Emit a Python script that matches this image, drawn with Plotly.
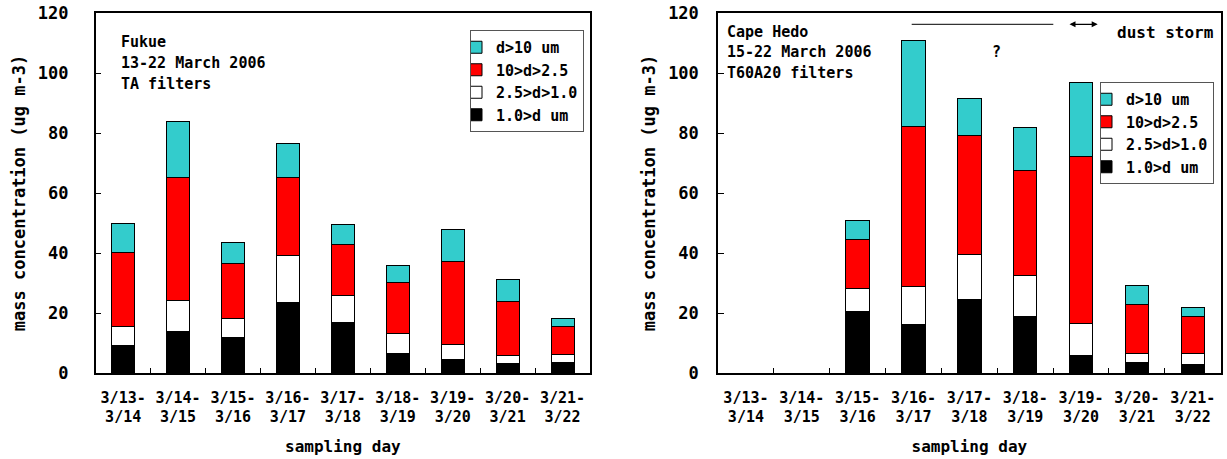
import plotly.graph_objects as go

categories = ["3/13-<br>3/14", "3/14-<br>3/15", "3/15-<br>3/16", "3/16-<br>3/17", "3/17-<br>3/18",
              "3/18-<br>3/19", "3/19-<br>3/20", "3/20-<br>3/21", "3/21-<br>3/22"]
series_names = ["1.0>d um", "2.5>d>1.0", "10>d>2.5", "d>10 um"]

# Fukue (TA filters) - segment values, ug m-3
fukue_lt1 = [9.1, 14.0, 11.8, 23.6, 16.7, 6.4, 4.4, 3.1, 3.4]
fukue_1_25 = [6.5, 10.2, 6.3, 15.7, 9.2, 6.9, 5.0, 2.8, 2.9]
fukue_25_10 = [24.6, 40.9, 18.3, 25.8, 17.0, 16.9, 27.8, 17.9, 9.3]
fukue_gt10 = [9.8, 18.7, 7.0, 11.3, 6.5, 5.8, 10.6, 7.4, 2.6]

# Cape Hedo (T60A20 filters)
hedo_lt1 = [None, None, 20.6, 16.3, 24.6, 18.8, 5.8, 3.6, 2.8]
hedo_1_25 = [None, None, 7.7, 12.5, 15.0, 13.8, 10.6, 3.0, 3.6]
hedo_25_10 = [None, None, 16.1, 53.5, 39.7, 35.0, 55.9, 16.4, 12.3]
hedo_gt10 = [None, None, 6.3, 28.5, 12.3, 14.4, 24.6, 6.2, 3.2]

colors = ["#000000", "#FFFFFF", "#FF0000", "#33CCCC"]
FONT = "DejaVu Sans Mono"
W, H = 1227, 459

fig = go.Figure()
for vals, name, col in zip([fukue_lt1, fukue_1_25, fukue_25_10, fukue_gt10], series_names, colors):
    fig.add_trace(go.Bar(x=categories, y=vals, name=name, marker=dict(color=col, line=dict(color="black", width=1)),
                         xaxis="x", yaxis="y", legend="legend"))
for vals, name, col in zip([hedo_lt1, hedo_1_25, hedo_25_10, hedo_gt10], series_names, colors):
    fig.add_trace(go.Bar(x=categories, y=vals, name=name, marker=dict(color=col, line=dict(color="black", width=1)),
                         xaxis="x2", yaxis="y2", legend="legend2"))

def px(x):
    return x / W

def py(y):
    return 1 - y / H

ydom = [py(373), py(13)]
axis_common = dict(showline=True, linecolor="black", linewidth=1.5, mirror=True, showgrid=False,
                   zeroline=False, tickcolor="black", automargin=False)
xfont = dict(family=FONT, size=15, color="black", weight="bold")
yfont = dict(family=FONT, size=17, color="black", weight="bold")
tfont = dict(family=FONT, size=17, color="black", weight="bold")
lfont = dict(family=FONT, size=15, color="black", weight="bold")
xtfont = dict(family=FONT, size=16, color="black", weight="bold")

fig.update_layout(
    width=W, height=H, margin=dict(l=0, r=0, t=0, b=0, pad=0),
    paper_bgcolor="white", plot_bgcolor="white", barmode="stack", bargap=0.58,
    font=dict(family=FONT, color="black"),
    xaxis=dict(domain=[px(95.7), px(590)], anchor="y", ticks="inside", ticklen=5, tickson="boundaries",
               tickfont=xfont, ticklabelstandoff=10,
               title=dict(text="sampling day", font=xtfont, standoff=16), **axis_common),
    yaxis=dict(domain=ydom, anchor="x", range=[0, 120], dtick=20, ticks="inside", ticklen=6,
               tickfont=yfont, ticklabelstandoff=22,
               title=dict(text="mass concentration (ug m-3)", font=tfont, standoff=8), **axis_common),
    xaxis2=dict(domain=[px(718), px(1220.7)], anchor="y2", ticks="inside", ticklen=5, tickson="boundaries",
                tickfont=xfont, ticklabelstandoff=10,
                title=dict(text="sampling day", font=xtfont, standoff=16), **axis_common),
    yaxis2=dict(domain=ydom, anchor="x2", range=[0, 120], dtick=20, ticks="inside", ticklen=6,
                tickfont=yfont, ticklabelstandoff=14,
                title=dict(text="mass concentration (ug m-3)", font=tfont, standoff=8), **axis_common),
    legend=dict(x=px(470), y=py(30), xanchor="left", yanchor="top", traceorder="reversed",
                bordercolor="#555555", borderwidth=1, bgcolor="white", indentation=-15,
                font=lfont, itemwidth=30),
    legend2=dict(x=px(1100), y=py(82), xanchor="left", yanchor="top", traceorder="reversed",
                 bordercolor="#555555", borderwidth=1, bgcolor="white", indentation=-15,
                 font=lfont, itemwidth=30),
)

afont = dict(family=FONT, size=15, color="black", weight="bold")
for text, yy in [("Fukue", 42), ("13-22 March 2006", 63), ("TA filters", 84)]:
    fig.add_annotation(x=px(119), y=py(yy), xref="paper", yref="paper", text=text, showarrow=False,
                       xanchor="left", yanchor="middle", font=afont)
for text, yy in [("Cape Hedo", 32), ("15-22 March 2006", 52), ("T60A20 filters", 73)]:
    fig.add_annotation(x=px(725), y=py(yy), xref="paper", yref="paper", text=text, showarrow=False,
                       xanchor="left", yanchor="middle", font=afont)
fig.add_annotation(x=px(996), y=py(52), xref="paper", yref="paper", text="?", showarrow=False,
                   xanchor="center", yanchor="middle", font=afont)
fig.add_annotation(x=px(1216), y=py(33), xref="paper", yref="paper", text="dust storm", showarrow=False,
                   xanchor="right", yanchor="middle", font=dict(family=FONT, size=16, color="black", weight="bold"))
fig.add_shape(type="line", xref="paper", yref="paper", x0=px(911.7), x1=px(1053.3), y0=py(24.3), y1=py(24.3),
              line=dict(color="black", width=1))
fig.add_annotation(x=px(1097.7), y=py(24.3), xref="paper", yref="paper", ax=-29.7, ay=0, text="",
                   showarrow=True, arrowhead=2, arrowside="end+start", arrowsize=1, arrowwidth=1.2,
                   arrowcolor="black")

fig.write_html("out.html")
